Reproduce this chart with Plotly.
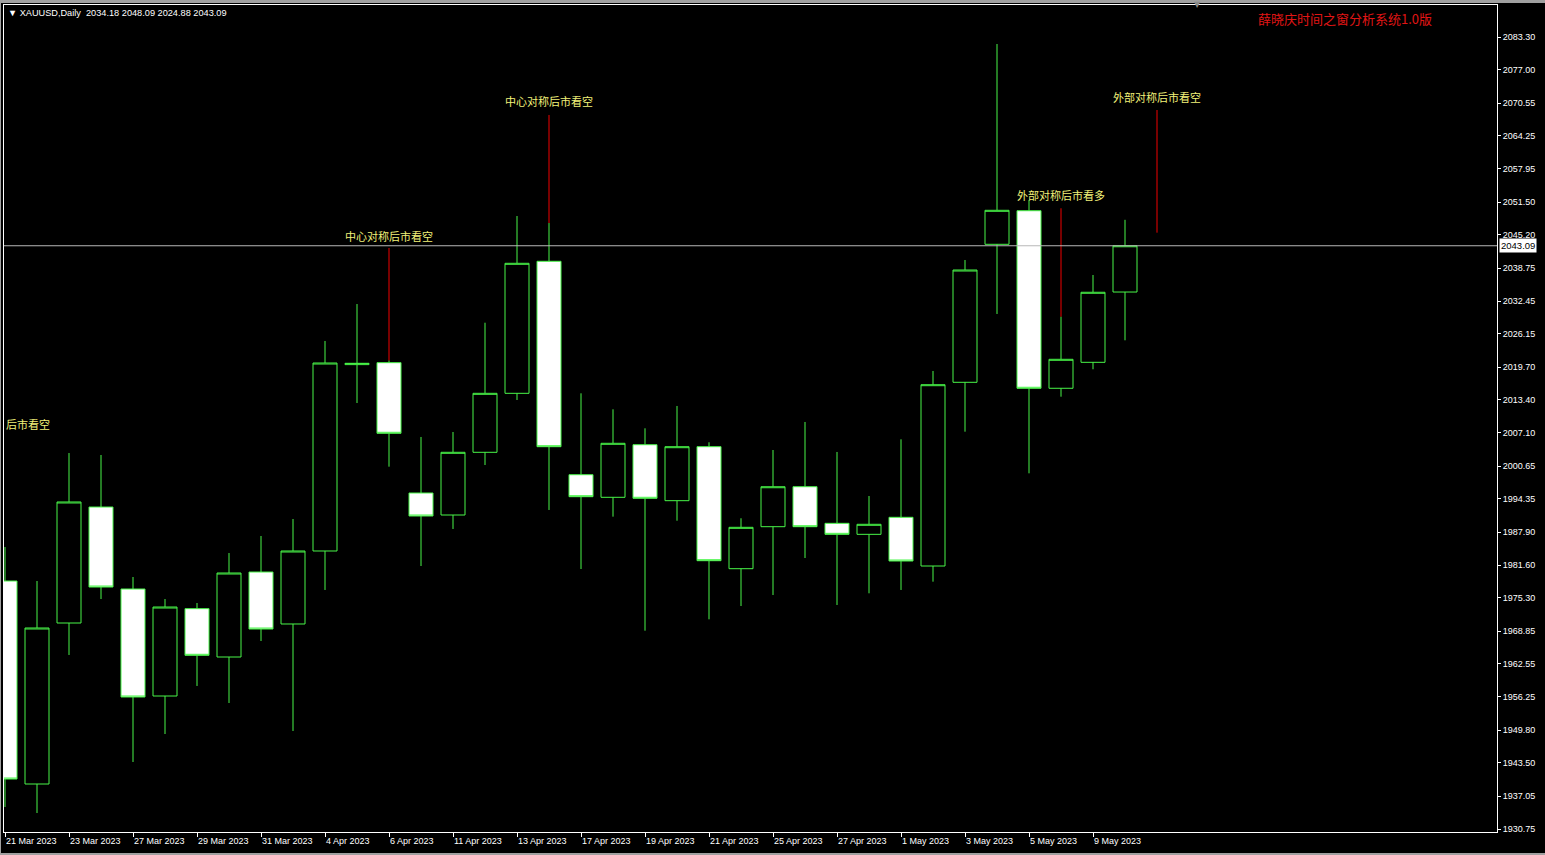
import plotly.graph_objects as go

# ---------------- data ----------------
dates = ["21 Mar 2023", "22 Mar 2023", "23 Mar 2023", "24 Mar 2023", "27 Mar 2023", "28 Mar 2023",
         "29 Mar 2023", "30 Mar 2023", "31 Mar 2023", "3 Apr 2023", "4 Apr 2023", "5 Apr 2023",
         "6 Apr 2023", "10 Apr 2023", "11 Apr 2023", "12 Apr 2023", "13 Apr 2023", "14 Apr 2023",
         "17 Apr 2023", "18 Apr 2023", "19 Apr 2023", "20 Apr 2023", "21 Apr 2023", "24 Apr 2023",
         "25 Apr 2023", "26 Apr 2023", "27 Apr 2023", "28 Apr 2023", "1 May 2023", "2 May 2023",
         "3 May 2023", "4 May 2023", "5 May 2023", "8 May 2023", "9 May 2023", "10 May 2023"]

opens = [1978.52, 1939.42, 1970.43, 1992.77, 1976.98, 1956.37, 1973.19, 1963.88, 1980.25, 1970.24,
         1984.30, 2020.20, 2020.57, 1995.47, 1991.23, 2003.31, 2014.67, 2040.10, 1998.99, 1994.64,
         2004.77, 1993.99, 2004.39, 1980.89, 1988.98, 1996.68, 1989.63, 1987.51, 1990.79, 1981.41,
         2016.79, 2043.37, 2049.84, 2015.64, 2020.64, 2034.18]
highs = [1985.07, 1978.52, 2003.17, 2002.79, 1979.29, 1975.05, 1974.28, 1983.91, 1987.19, 1990.46,
         2024.75, 2031.87, 2021.00, 2006.26, 2007.22, 2028.27, 2048.82, 2047.47, 2014.67, 2011.59,
         2007.93, 2012.23, 2005.24, 1990.60, 2003.75, 2009.15, 2003.37, 1994.89, 2005.81, 2018.97,
         2040.35, 2081.95, 2051.90, 2029.43, 2037.46, 2048.09]
lows = [1934.99, 1933.83, 1964.27, 1975.05, 1943.66, 1949.05, 1958.30, 1955.02, 1966.96, 1949.63,
        1976.79, 2012.80, 2000.54, 1981.41, 1988.54, 2000.86, 2013.38, 1992.20, 1980.83, 1990.91,
        1968.95, 1990.13, 1971.14, 1973.70, 1975.82, 1982.95, 1973.90, 1976.15, 1976.79, 1978.39,
        2007.28, 2029.95, 1999.26, 2014.02, 2019.30, 2024.88]
closes = [1940.38, 1969.47, 1993.74, 1977.36, 1956.18, 1973.51, 1964.21, 1980.06, 1969.27, 1984.30,
          2020.51, 2020.45, 2006.97, 1991.04, 2003.31, 2014.67, 2039.71, 2004.39, 1994.76, 2005.04,
          1994.45, 2004.39, 1982.43, 1988.86, 1996.68, 1988.98, 1987.51, 1989.44, 1982.37, 2016.33,
          2038.42, 2049.92, 2015.64, 2021.22, 2034.13, 2043.09]

# signal markers (bar index, red line top/bottom price, label text, label price)
signal_bar = [12, 17, 33, 36]
signal_top = [2042.66, 2068.28, 2050.31, 2069.24]
signal_bottom = [2021.00, 2047.47, 2029.43, 2045.61]
signal_text = ["中心对称后市看空", "中心对称后市看空", "外部对称后市看多", "外部对称后市看空"]
signal_label_price = [2044.97, 2070.97, 2052.87, 2071.74]
edge_label_text = "后市看空"
edge_label_price = 2008.76

price_ticks = [2083.30, 2077.00, 2070.55, 2064.25, 2057.95, 2051.50, 2045.20, 2038.75, 2032.45,
               2026.15, 2019.70, 2013.40, 2007.10, 2000.65, 1994.35, 1987.90, 1981.60, 1975.30,
               1968.85, 1962.55, 1956.25, 1949.80, 1943.50, 1937.05, 1930.75]

symbol_title = "XAUUSD,Daily"
system_title = "薛晓庆时间之窗分析系统1.0版"

# ---------------- figure ----------------
W, H = 1545, 855
ML, MR, MT, MB = 4, 48, 5, 23
PW, PH = W - ML - MR, H - MT - MB

GREEN = "#48f548"
x_idx = list(range(len(dates)))

fig = go.Figure()
fig.add_trace(go.Candlestick(
    x=x_idx, open=opens, high=highs, low=lows, close=closes,
    increasing=dict(line=dict(color=GREEN, width=1), fillcolor="#000000"),
    decreasing=dict(line=dict(color=GREEN, width=1), fillcolor="#ffffff"),
    whiskerwidth=0, hoverinfo="skip", showlegend=False))

# red signal lines
sx, sy = [], []
for b, t, btm in zip(signal_bar, signal_top, signal_bottom):
    sx += [b, b, None]
    sy += [t, btm, None]
fig.add_trace(go.Scatter(x=sx, y=sy, mode="lines", line=dict(color="#f00000", width=1),
                         hoverinfo="skip", showlegend=False))

annotations = []
for b, txt, p in zip(signal_bar, signal_text, signal_label_price):
    annotations.append(dict(x=b, y=p, xref="x", yref="y", text=txt, showarrow=False,
                            xanchor="center", yanchor="middle",
                            font=dict(family="Noto Sans CJK SC", size=11, color="#f2f27a")))
annotations.append(dict(x=0, y=edge_label_price, xref="paper", yref="y", text=edge_label_text,
                        showarrow=False, xanchor="left", yanchor="middle",
                        font=dict(family="Noto Sans CJK SC", size=11, color="#f2f27a")))

# header texts
header = "▼ " + symbol_title + "  " + " ".join(f"{v:.2f}" for v in (opens[-1], highs[-1], lows[-1], closes[-1]))
annotations.append(dict(x=2 / PW, y=1 - 8 / PH, xref="paper", yref="paper", text=header,
                        showarrow=False, xanchor="left", yanchor="middle",
                        font=dict(family="Liberation Sans", size=9.2, color="#ffffff")))
annotations.append(dict(x=(1345 - ML) / PW, y=1 - 13 / PH, xref="paper", yref="paper", text=system_title,
                        showarrow=False, xanchor="center", yanchor="middle",
                        font=dict(family="Noto Sans CJK SC", size=13, color="#e01515")))
# current price label
annotations.append(dict(x=1, y=closes[-1], xref="paper", yref="y", text=f"{closes[-1]:.2f}",
                        showarrow=False, xanchor="left", yanchor="middle", xshift=2,
                        bgcolor="#ffffff", borderpad=1,
                        font=dict(family="Liberation Sans", size=9.5, color="#000000")))
# chart shift marker
annotations.append(dict(x=(1197 - ML) / PW, y=1 + 1 / PH, xref="paper", yref="paper", text="▼",
                        showarrow=False, xanchor="center", yanchor="middle",
                        font=dict(family="DejaVu Sans", size=8, color="#8a8a8a")))

shapes = [
    # current price line
    dict(type="line", xref="paper", yref="y", x0=0, x1=1, y0=closes[-1], y1=closes[-1],
         line=dict(color="#b8b8b8", width=1)),
    # window frame (top / left / bottom gray bands)
    dict(type="rect", xref="paper", yref="paper", x0=-0.01, x1=1.05, y0=1 + 2 / PH, y1=1 + 6 / PH,
         line=dict(width=0), fillcolor="#a0a0a0", layer="above"),
    dict(type="rect", xref="paper", yref="paper", x0=-5 / PW, x1=-3 / PW, y0=-0.05, y1=1.01,
         line=dict(width=0), fillcolor="#a0a0a0", layer="above"),
    dict(type="rect", xref="paper", yref="paper", x0=-0.01, x1=1.05, y0=-(MB + 1) / PH, y1=-(MB - 2) / PH,
         line=dict(width=0), fillcolor="#a0a0a0", layer="above"),
]

y_top = price_ticks[0] + 32 * 0.19261
y_bot = price_ticks[0] - 795 * 0.19261
x_left = -1 / 32
x_right = (PW - 1) / 32

fig.update_layout(
    width=W, height=H,
    margin=dict(l=ML, r=MR, t=MT, b=MB, pad=0),
    paper_bgcolor="#000000", plot_bgcolor="#000000",
    boxgap=0.25, boxgroupgap=0,
    annotations=annotations, shapes=shapes,
    showlegend=False,
    xaxis=dict(range=[x_left, x_right], tickmode="array",
               tickvals=x_idx[::2], ticktext=dates[::2],
               ticks="outside", ticklen=4, tickcolor="#ffffff", ticklabelposition="outside right",
               tickfont=dict(family="Liberation Sans", size=9, color="#ffffff"),
               showline=True, linecolor="#ffffff", linewidth=1, mirror=True,
               showgrid=False, zeroline=False, rangeslider=dict(visible=False), fixedrange=True),
    yaxis=dict(range=[y_bot, y_top], side="right", tickmode="array",
               tickvals=price_ticks, ticktext=[f"{v:.2f}" for v in price_ticks],
               ticks="outside", ticklen=3, tickcolor="#ffffff",
               tickfont=dict(family="Liberation Sans", size=9, color="#ffffff"),
               showline=True, linecolor="#ffffff", linewidth=1, mirror=True,
               showgrid=False, zeroline=False, fixedrange=True),
)

fig.write_html("out.html", config={"displayModeBar": False},
               post_script="document.body.style.margin='0';document.body.style.background='#000';")
